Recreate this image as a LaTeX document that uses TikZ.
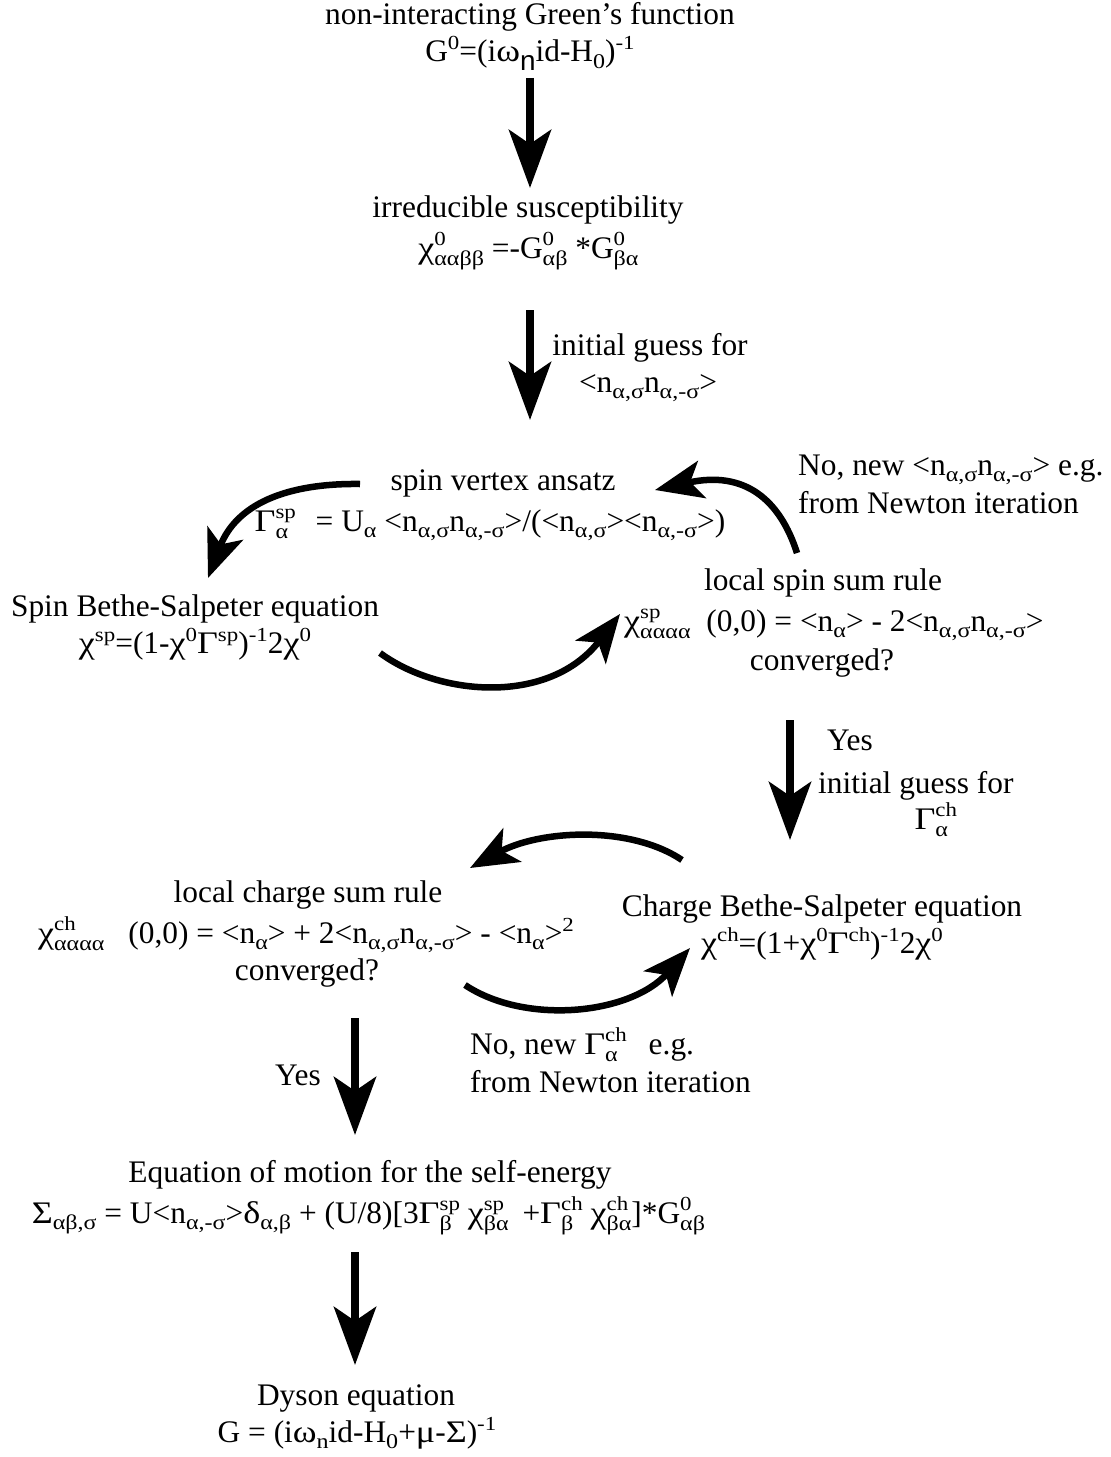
\documentclass[tikz,border=0pt]{standalone}
\usepackage{fontspec}
\setmainfont{Liberation Serif}
\newfontfamily\sansf{Liberation Sans}
% slightly widened face for Greek letters and indices
\newfontfamily\widef[FakeStretch=1.15]{Liberation Serif}
\usetikzlibrary{arrows.meta}

% Greek letters at full size
\newcommand\gk[1]{{\widef #1}}
% small indices
\newcommand\sups[1]{\raisebox{12bp}{\fontsize{20}{20}\widef #1}}
\newcommand\subs[1]{\raisebox{-6.5bp}{\fontsize{21}{21}\widef #1}}
% stacked upper and lower index
\newcommand\both[2]{{\fontsize{21}{21}\widef
  \setbox0\hbox{\fontsize{20}{20}\widef #1}\setbox2\hbox{#2}%
  \ifdim\wd0>\wd2\relax\dimen0=\wd0\else\dimen0=\wd2\fi
  \raisebox{13bp}{\rlap{\copy0}}\raisebox{-7bp}{\rlap{\copy2}}\hspace{\dimen0}}}

\begin{document}
\begin{tikzpicture}[x=1bp,y=-1bp,
  txt/.style={font=\fontsize{31.5}{35}\selectfont, inner sep=0pt, anchor=base},
  ltxt/.style={txt, anchor=base west},
  bigarrow/.style={line width=8bp, -{Stealth[length=58bp,width=42bp,inset=14bp]}},
  curvearrow/.style={line width=6.5bp, -{Stealth[length=48bp,width=38bp,inset=12bp]}}]
\useasboundingbox (0,0) rectangle (1110,1457);

% ---- blocks of the scheme ----
\node[txt] (green) at (530,25) {non-interacting Green's function};
\node[txt] (greenf) at (530,62) {G\sups{0}=(i\gk{ω}\raisebox{-9bp}{\fontsize{28}{28}\sansf n}id-H\subs{0})\sups{-1}};

\node[txt] (irr) at (528,218) {irreducible susceptibility};
\node[txt] (irrf) at (516,258) {\gk{χ}\both{0}{ααββ} =-G\both{0}{αβ} *G\both{0}{βα}};

\node[txt] (guess) at (650,355) {initial guess for};
\node[txt] (guessf) at (648,392) {<n\subs{α,σ}n\subs{α,-σ}>};

\node[txt] (ansatz) at (503,490) {spin vertex ansatz};
\node[txt] (ansatzf) at (490,531) {\gk{Γ}\both{sp}{α}\hspace{12bp} = U\subs{α} <n\subs{α,σ}n\subs{α,-σ}>/(<n\subs{α,σ}><n\subs{α,-σ}>)};

\node[ltxt] (nonew) at (798,475) {No, new <n\subs{α,σ}n\subs{α,-σ}> e.g.};
\node[ltxt] (nonewb) at (798,513) {from Newton iteration};

\node[txt] (spinbs) at (195,616) {Spin Bethe-Salpeter equation};
\node[txt] (spinbsf) at (195,653) {\gk{χ}\sups{sp}=(1-\gk{χ}\sups{0}\gk{Γ}\sups{sp})\sups{-1}2\gk{χ}\sups{0}};

\node[txt] (spinsum) at (823,590) {local spin sum rule};
\node[ltxt] (spinsumf) at (624,631) {\gk{χ}\both{sp}{αααα}\hspace{8bp} (0,0) = <n\subs{α}> - 2<n\subs{α,σ}n\subs{α,-σ}>};
\node[txt] (spinconv) at (822,670) {converged?};

\node[ltxt] (yesa) at (827,750) {Yes};
\node[ltxt] (guessb) at (818,793) {initial guess for};
\node[txt] (guessbf) at (925,829) {\gk{Γ}\both{ch}{α}};

\node[txt] (chbs) at (822,916) {Charge Bethe-Salpeter equation};
\node[txt] (chbsf) at (822,953) {\gk{χ}\sups{ch}=(1+\gk{χ}\sups{0}\gk{Γ}\sups{ch})\sups{-1}2\gk{χ}\sups{0}};

\node[txt] (chsum) at (308,902) {local charge sum rule};
\node[txt] (chsumf) at (306,943) {\gk{χ}\both{ch}{αααα}\hspace{16bp} (0,0) = <n\subs{α}> + 2<n\subs{α,σ}n\subs{α,-σ}> - <n\subs{α}>\sups{2}};
\node[txt] (chconv) at (307,980) {converged?};

\node[ltxt] (nonewc) at (470,1054) {No, new \gk{Γ}\both{ch}{α}\hspace{14bp} e.g.};
\node[ltxt] (nonewd) at (470,1092) {from Newton iteration};

\node[ltxt] (yesb) at (275,1085) {Yes};

\node[txt] (eom) at (370,1182) {Equation of motion for the self-energy};
\node[txt] (eomf) at (356,1223) {\gk{Σ}\subs{αβ,σ} = U<n\subs{α,-σ}>\gk{δ}\subs{α,β} + (U/8)[3\gk{Γ}\both{sp}{β} \gk{χ}\both{sp}{βα}\hspace{6bp} +\gk{Γ}\both{ch}{β} \gk{χ}\both{ch}{βα}]*G\both{0}{αβ}};

\node[txt] (dyson) at (356,1405) {Dyson equation};
\node[txt] (dysonf) at (357,1442) {G = (i\gk{ω}\subs{n}id-H\subs{0}+\gk{μ}-\gk{Σ})\sups{-1}};

% ---- connector end points ----
\coordinate (v1a) at (530,78);   \coordinate (v1b) at (530,188);
\coordinate (v2a) at (530,310);  \coordinate (v2b) at (530,420);
\coordinate (v3a) at (790,720);  \coordinate (v3b) at (790,840);
\coordinate (v4a) at (355,1018); \coordinate (v4b) at (355,1135);
\coordinate (v5a) at (355,1252); \coordinate (v5b) at (355,1365);

\coordinate (c1a) at (360,484);  \coordinate (c1b) at (208,578);
\coordinate (c2a) at (797,553);  \coordinate (c2b) at (655,490);
\coordinate (c3a) at (380,653);  \coordinate (c3b) at (620,614);
\coordinate (c4a) at (682,860);  \coordinate (c4b) at (470,868);
\coordinate (c5a) at (465,985);  \coordinate (c5b) at (690,948);

% ---- straight steps ----
\draw[bigarrow] (v1a) -- (v1b);
\draw[bigarrow] (v2a) -- (v2b);
\draw[bigarrow] (v3a) -- (v3b);
\draw[bigarrow] (v4a) -- (v4b);
\draw[bigarrow] (v5a) -- (v5b);

% ---- iteration loops ----
\draw[curvearrow] (c1a) .. controls (285,483) and (236,505) .. (c1b);
\draw[curvearrow] (c2a) .. controls (780,500) and (745,470) .. (c2b);
\draw[curvearrow] (c3a) .. controls (440,697) and (550,705) .. (c3b);
\draw[curvearrow] (c4a) .. controls (630,825) and (540,830) .. (c4b);
\draw[curvearrow] (c5a) .. controls (525,1025) and (630,1015) .. (c5b);
\end{tikzpicture}
\end{document}
